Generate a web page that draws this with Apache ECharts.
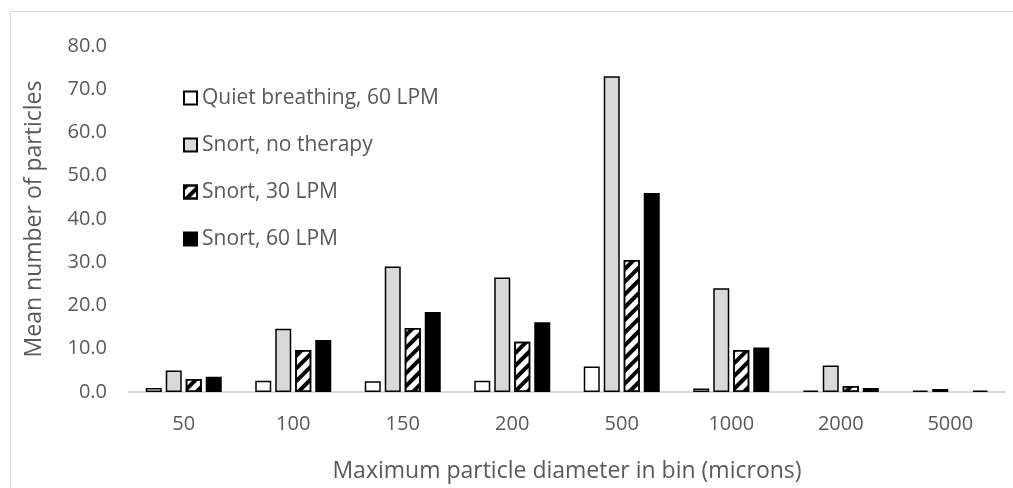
<!DOCTYPE html>
<html>
<head>
<meta charset="utf-8">
<script src="https://cdn.jsdelivr.net/npm/echarts@6/dist/echarts.min.js"></script>
<style>html,body{margin:0;padding:0;background:#fff}#c{width:1013px;height:488px}</style>
</head>
<body>
<div id="c"></div>
<script>
const categories = ['50', '100', '150', '200', '500', '1000', '2000', '5000'];
const quietBreathing60 = [0.9, 2.6, 2.5, 2.6, 5.9, 0.8, 0.3, 0.3];
const snortNoTherapy = [5.0, 14.6, 29.0, 26.5, 73.0, 24.0, 6.1, 0.7];
const snort30 = [3.0, 9.7, 14.8, 11.6, 30.5, 9.7, 1.4, null];
const snort60 = [3.5, 12.0, 18.5, 16.1, 46.0, 10.3, 0.9, 0.3];
const seriesNames = ['Quiet breathing, 60 LPM', 'Snort, no therapy', 'Snort, 30 LPM', 'Snort, 60 LPM'];

const font = 'Open Sans';
const txt = '#595959';
const chart = echarts.init(document.getElementById('c'), null, {renderer: 'canvas'});
const base = {type: 'bar', barWidth: 16, barGap: '25%'};
chart.setOption({
  animation: false,
  backgroundColor: '#fff',
  graphic: [{type: 'rect', shape: {x: 10.5, y: 11.5, width: 1100, height: 600}, style: {fill: 'none', stroke: '#d9d9d9', lineWidth: 1}, silent: true}],
  grid: {left: 129, right: 8, top: 46, bottom: 80.5},
  legend: {
    orient: 'vertical', left: 183, top: 86, padding: 0, icon: 'rect', itemWidth: 13, itemHeight: 13, itemGap: 23,
    textStyle: {fontFamily: font, fontSize: 21, color: txt, lineHeight: 24},
    data: seriesNames
  },
  xAxis: {
    type: 'category', data: categories,
    axisLine: {lineStyle: {color: '#d9d9d9', width: 2}},
    axisTick: {show: false},
    axisLabel: {fontFamily: font, fontSize: 20, color: txt, margin: 22},
    name: 'Maximum particle diameter in bin (microns)', nameLocation: 'middle', nameGap: 68,
    nameTextStyle: {fontFamily: font, fontSize: 23, color: txt}
  },
  yAxis: {
    type: 'value', min: 0, max: 80, interval: 10,
    splitLine: {show: false}, axisLine: {show: false}, axisTick: {show: false},
    axisLabel: {fontFamily: font, fontSize: 20, color: txt, margin: 22, formatter: v => v.toFixed(1)},
    name: 'Mean number of particles', nameLocation: 'middle', nameGap: 83,
    nameTextStyle: {fontFamily: font, fontSize: 23, color: txt}
  },
  series: [
    Object.assign({}, base, {name: seriesNames[0], data: quietBreathing60, itemStyle: {color: '#ffffff', borderColor: '#000', borderWidth: 1.5}}),
    Object.assign({}, base, {name: seriesNames[1], data: snortNoTherapy, itemStyle: {color: '#d9d9d9', borderColor: '#000', borderWidth: 1.5}}),
    Object.assign({}, base, {name: seriesNames[2], data: snort30, itemStyle: {color: '#ffffff', borderColor: '#000', borderWidth: 1.5,
      decal: {symbol: 'rect', symbolSize: 1, color: '#000', dashArrayX: [1, 0], dashArrayY: [4, 5], rotation: -Math.PI / 4}}}),
    Object.assign({}, base, {name: seriesNames[3], data: snort60, itemStyle: {color: '#000000', borderColor: '#000', borderWidth: 1.5}})
  ]
});
</script>
</body>
</html>
